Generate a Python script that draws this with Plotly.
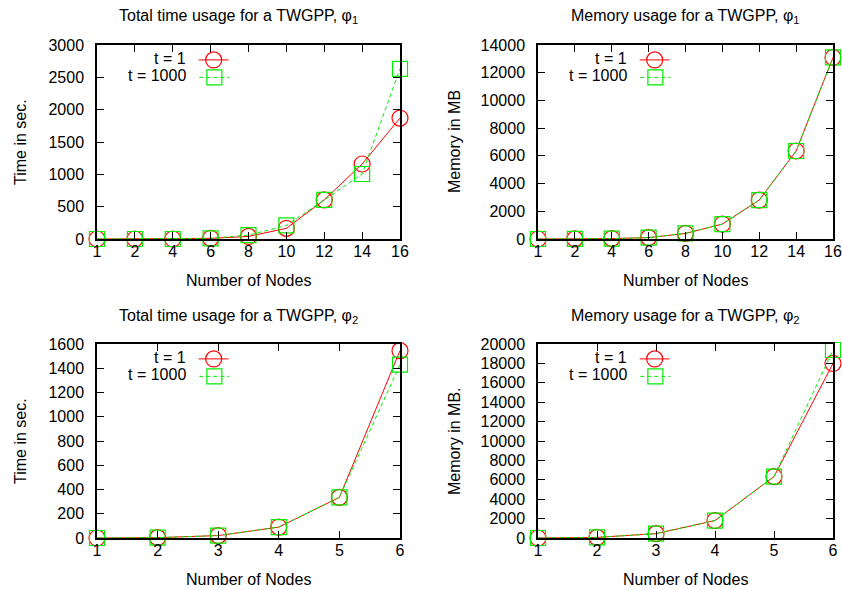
import plotly.graph_objects as go

W, H = 842, 590

# ---- data ----
nodes_phi1 = ["1", "2", "4", "6", "8", "10", "12", "14", "16"]
time_phi1_t1 = [0, 0, 0, 10, 40, 165, 605, 1160, 1870]
time_phi1_t1000 = [0, 0, 0, 10, 60, 210, 605, 1005, 2630]
mem_phi1_t1 = [0, 10, 30, 100, 400, 1080, 2810, 6350, 13100]
mem_phi1_t1000 = [0, 10, 30, 100, 410, 1080, 2810, 6350, 13100]

nodes_phi2 = [1, 2, 3, 4, 5, 6]
time_phi2_t1 = [0, 3, 20, 90, 335, 1545]
time_phi2_t1000 = [0, 3, 20, 90, 335, 1430]
mem_phi2_t1 = [0, 60, 450, 1800, 6330, 18000]
mem_phi2_t1000 = [0, 60, 450, 1800, 6330, 19380]

series_labels = ["t = 1", "t = 1000"]
titles = ["Total time usage for a TWGPP, φ<sub>1</sub>",
          "Memory usage for a TWGPP, φ<sub>1</sub>",
          "Total time usage for a TWGPP, φ<sub>2</sub>",
          "Memory usage for a TWGPP, φ<sub>2</sub>"]
ytitles = ["Time in sec.", "Memory in MB", "Time in sec.", "Memory in MB."]
xtitle = "Number of Nodes"

RED = "#ff0000"
GREEN = "#00ee00"
FONT = "Liberation Sans, Arial, Helvetica, sans-serif"
FS = 16

# plot boxes in page pixels: (left, right, top, bottom)
boxes = [(97, 400, 45, 239), (538, 833, 45, 239),
         (97, 400, 344, 538), (538, 833, 344, 538)]
yranges = [(0, 3000, 500), (0, 14000, 2000), (0, 1600, 200), (0, 20000, 2000)]

panels = [
    (nodes_phi1, time_phi1_t1, time_phi1_t1000),
    (nodes_phi1, mem_phi1_t1, mem_phi1_t1000),
    (nodes_phi2, time_phi2_t1, time_phi2_t1000),
    (nodes_phi2, mem_phi2_t1, mem_phi2_t1000),
]

fig = go.Figure()
layout = dict(width=W, height=H,
              margin=dict(l=0, r=0, t=0, b=0, pad=0, autoexpand=False),
              paper_bgcolor="white", plot_bgcolor="white", showlegend=True,
              font=dict(family=FONT, size=FS, color="black"),
              annotations=[])

def px(x):
    return x / W

def py(y):
    return 1 - y / H

leg_idx = 1
for i, (xs, a, b) in enumerate(panels):
    k = "" if i == 0 else str(i + 1)
    l, r, t, bt = boxes[i]
    xa, ya = "x" + k, "y" + k
    # legends (text left, sample right, gnuplot style)
    for j, (vals, col, dash, sym, msz) in enumerate([
            (a, RED, "solid", "circle-open", 16),
            (b, GREEN, "4px,3px", "square-open", 15)]):
        lname = "legend" if leg_idx == 1 else f"legend{leg_idx}"
        fig.add_trace(go.Scatter(
            x=xs, y=vals, xaxis=xa, yaxis=ya, mode="lines+markers",
            name="\u00a0", legend=lname, showlegend=True, cliponaxis=False,
            hovertemplate=series_labels[j] + ": %{y}<extra></extra>",
            line=dict(color=col, width=1, dash=dash),
            marker=dict(symbol=sym, size=msz, color=col,
                        line=dict(width=1.2, color=col))))
        yc = t + 15 + 17.5 * j
        layout[lname] = dict(
            x=px(l + 147), xanchor="right", y=py(yc), yanchor="middle",
            bgcolor="rgba(0,0,0,0)", borderwidth=0,
            font=dict(family=FONT, size=FS),
            title=dict(text=series_labels[j], side="left",
                       font=dict(family=FONT, size=FS)),
            itemwidth=30, tracegroupgap=0)
        leg_idx += 1

    ymin, ymax, dt = yranges[i]
    axcommon = dict(showline=True, linecolor="black", linewidth=1.5,
                    mirror="allticks", ticks="inside", ticklen=7,
                    tickcolor="black", tickwidth=1, showgrid=False,
                    zeroline=False, tickfont=dict(family=FONT, size=FS),
                    ticklabeloverflow="allow",
                    automargin=False, fixedrange=True)
    if isinstance(xs[0], str):
        xaxis = dict(type="category", range=[0, len(xs) - 1], **axcommon)
    else:
        xaxis = dict(range=[min(xs), max(xs)], dtick=1, **axcommon)
    xaxis.update(domain=[px(l), px(r)], anchor=ya, ticklabelstandoff=-3)
    yaxis = dict(range=[ymin, ymax], dtick=dt, tickformat="d",
                 domain=[py(bt), py(t)], anchor=xa, ticklabelstandoff=8,
                 **axcommon)
    layout["xaxis" + k] = xaxis
    layout["yaxis" + k] = yaxis

    # titles
    tcx = 238 if i in (0, 2) else 685
    layout["annotations"].append(dict(
        text=titles[i], x=px(tcx), y=py(t - 28), xref="paper", yref="paper",
        showarrow=False, xanchor="center", yanchor="middle",
        font=dict(family=FONT, size=FS)))
    layout["annotations"].append(dict(
        text=xtitle, x=px((l + r) / 2), y=py(bt + 41), xref="paper",
        yref="paper", showarrow=False, xanchor="center", yanchor="middle",
        font=dict(family=FONT, size=FS)))
    ycx = 20 if i in (0, 2) else 454
    layout["annotations"].append(dict(
        text=ytitles[i], x=px(ycx), y=py((t + bt) / 2), xref="paper",
        yref="paper", showarrow=False, textangle=-90, xanchor="center",
        yanchor="middle", font=dict(family=FONT, size=FS)))

fig.update_layout(**layout)
fig.write_html("out.html",
               config={"displayModeBar": False},
               post_script="document.body.style.margin='0';"
                           "document.body.style.overflow='hidden';")
